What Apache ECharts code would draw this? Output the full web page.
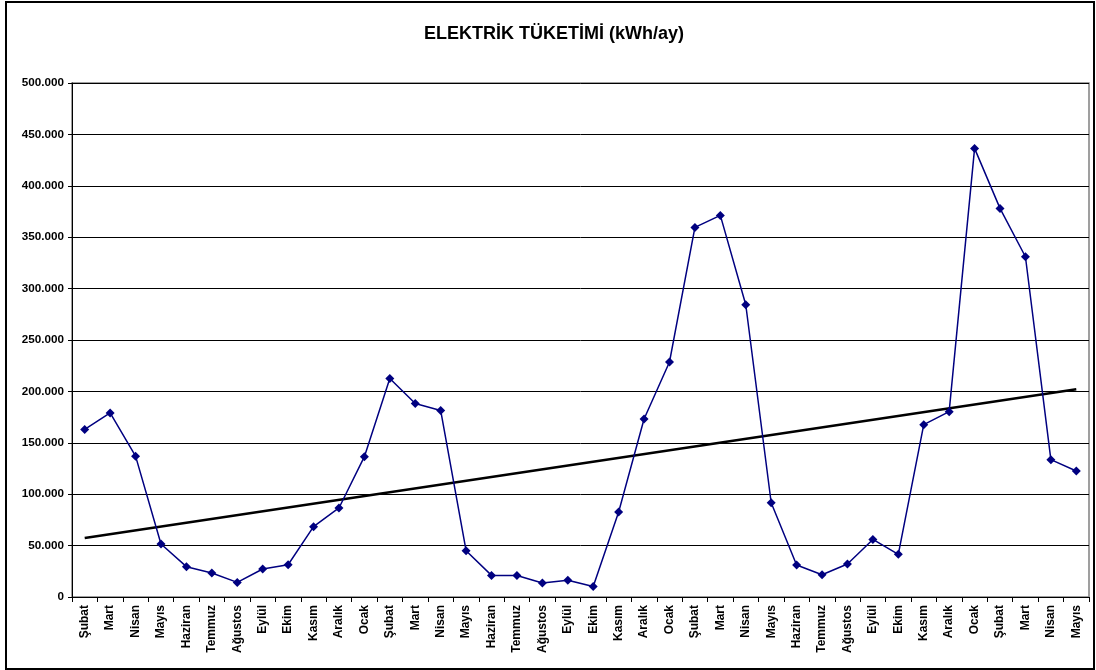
<!DOCTYPE html>
<html>
<head>
<meta charset="utf-8">
<script src="https://cdn.jsdelivr.net/npm/echarts@6/dist/echarts.min.js"></script>
<style>
  html, body { margin: 0; padding: 0; background: #fff; }
  #chart { width: 1096px; height: 670px; }
</style>
</head>
<body>
<div id="chart"></div>
<script>
// aylar (Şubat .. Mayıs, 40 ay)
const months = [
  'Şubat', 'Mart', 'Nisan', 'Mayıs', 'Haziran', 'Temmuz', 'Ağustos', 'Eylül', 'Ekim', 'Kasım', 'Aralık', 'Ocak',
  'Şubat', 'Mart', 'Nisan', 'Mayıs', 'Haziran', 'Temmuz', 'Ağustos', 'Eylül', 'Ekim', 'Kasım', 'Aralık', 'Ocak',
  'Şubat', 'Mart', 'Nisan', 'Mayıs', 'Haziran', 'Temmuz', 'Ağustos', 'Eylül', 'Ekim', 'Kasım', 'Aralık', 'Ocak',
  'Şubat', 'Mart', 'Nisan', 'Mayıs'
];

// kWh/ay
const consumption = [
  163000, 179000, 137000, 51500, 29500, 23300, 14200, 27200, 31400, 68400, 86600, 136500,
  212600, 188300, 181500, 45000, 21000, 21000, 13600, 16200, 10300, 82700, 173200, 228600,
  359500, 371200, 284300, 91700, 31100, 21700, 32100, 56000, 41500, 167600, 180300, 436400,
  378000, 331000, 133600, 122600
];

// doğrusal eğilim çizgisinin uç değerleri (ilk ve son ay)
const trendEnds = [57400, 202000];

const yTicks = { min: 0, max: 500000, step: 50000 };

function fmt(v) {
  if (v === 0) return '0';
  return String(v).replace(/\B(?=(\d{3})+(?!\d))/g, '.');
}

const chart = echarts.init(document.getElementById('chart'));
const font = '"Liberation Sans", Arial, sans-serif';

const option = {
  animation: false,
  backgroundColor: '#fff',
  title: {
    text: 'ELEKTRİK TÜKETİMİ (kWh/ay)',
    left: 549,
    top: 20,
    textAlign: 'center',
    textStyle: { fontFamily: font, fontWeight: 'bold', fontSize: 18, color: '#000' }
  },
  graphic: [{
    type: 'rect',
    shape: { x: 6, y: 2, width: 1088, height: 667 },
    style: { fill: null, stroke: '#000', lineWidth: 2 },
    silent: true
  }],
  grid: {
    left: 72, right: 7, top: 83, bottom: 73,
    show: true,
    borderColor: '#808080',
    borderWidth: 1.5
  },
  xAxis: {
    type: 'category',
    data: months,
    boundaryGap: true,
    axisLine: { lineStyle: { color: '#000', width: 1 } },
    axisTick: { show: true, length: 5, lineStyle: { color: '#000' } },
    axisLabel: {
      rotate: 90,
      interval: 0,
      margin: 8,
      fontFamily: font,
      fontWeight: 'bold',
      fontSize: 12,
      color: '#000'
    },
    splitLine: { show: false }
  },
  yAxis: {
    type: 'value',
    min: yTicks.min,
    max: yTicks.max,
    interval: yTicks.step,
    axisLine: { show: true, lineStyle: { color: '#000', width: 1 } },
    axisTick: { show: true, length: 4, lineStyle: { color: '#000' } },
    axisLabel: {
      formatter: fmt,
      margin: 8,
      fontFamily: font,
      fontWeight: 'bold',
      fontSize: 11.7,
      color: '#000'
    },
    splitLine: { show: true, lineStyle: { color: '#000', width: 1 } }
  },
  series: [
    {
      name: 'Tüketim',
      type: 'line',
      data: consumption,
      symbol: 'diamond',
      symbolSize: 9,
      lineStyle: { color: '#000080', width: 1.5 },
      itemStyle: { color: '#000080' },
      z: 3
    },
    {
      name: 'Eğilim',
      type: 'line',
      data: [[0, trendEnds[0]], [months.length - 1, trendEnds[1]]],
      symbol: 'none',
      lineStyle: { color: '#000', width: 2.5 },
      z: 2
    }
  ]
};

chart.setOption(option);
window.addEventListener('resize', function () {
  chart.resize();
});
</script>
</body>
</html>
